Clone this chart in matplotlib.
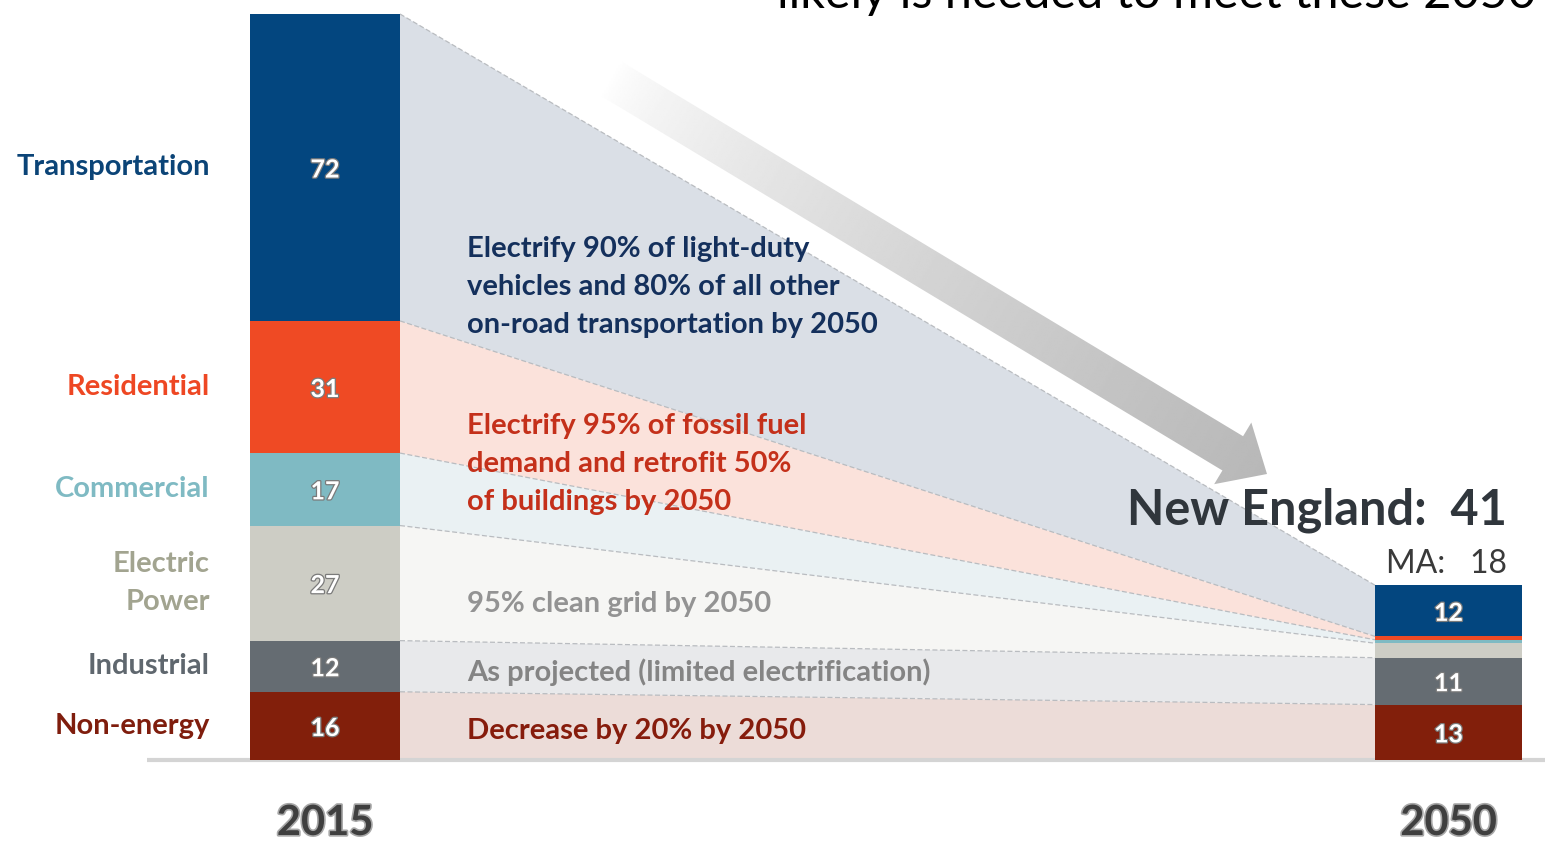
import matplotlib
matplotlib.use('Agg')
import matplotlib.pyplot as plt
import matplotlib.patheffects as pe
from matplotlib.patches import Polygon
import numpy as np

# emissions by sector, MMTCO2e, stacked bottom -> top
sectors = ['Non-energy', 'Industrial', 'Electric\nPower', 'Commercial', 'Residential', 'Transportation']
emis_2015 = [16, 12, 27, 17, 31, 72]
emis_2050 = [13, 11, 3.4, 0.8, 0.8, 12]
labels_2015 = ['16', '12', '27', '17', '31', '72']
labels_2050 = ['13', '11', '', '', '', '12']
years = ['2015', '2050']
total_2050 = 41
ma_2050 = 18

notes = [
    'Decrease by 20% by 2050',
    'As projected (limited electrification)',
    '95% clean grid by 2050',
    '',
    'Electrify 95% of fossil fuel\ndemand and retrofit 50%\nof buildings by 2050',
    'Electrify 90% of light-duty\nvehicles and 80% of all other\non-road transportation by 2050',
]

bar_colors = ['#821f0b', '#656c72', '#cdcdc5', '#7fbac3', '#ef4a24', '#03467f']
band_colors = ['#ecdcd8', '#e8e9eb', '#f6f6f4', '#eaf1f3', '#fbe2db', '#dadfe6']
label_colors = ['#7f1d0d', '#5f676e', '#a2a490', '#7fbac3', '#ee4723', '#0b4477']
note_colors = ['#861c0c', '#848484', '#939393', '#000000', '#c4301a', '#14305c']

W, H = 1545, 841
base_px = 760           # pixel row of the zero line
k = 746 / 175           # pixels per MMTCO2e
FONT = ['Lato', 'DejaVu Sans']

fig = plt.figure(figsize=(W / 100, H / 100), dpi=100)
ax = fig.add_axes([0, 0, 1, 1])
ax.set_xlim(0, W)
ax.set_ylim(-(H - base_px) / k, base_px / k)
ax.axis('off')

x15, w15 = 250, 150
x50, w50 = 1375, 147

b15 = np.concatenate([[0], np.cumsum(emis_2015)[:-1]])
b50 = np.concatenate([[0], np.cumsum(emis_2050)[:-1]])
t15 = b15 + np.array(emis_2015)
t50 = b50 + np.array(emis_2050)

# bands connecting the two years
for i in range(len(sectors)):
    poly = Polygon([(x15 + w15, b15[i]), (x15 + w15, t15[i]),
                    (x50, t50[i]), (x50, b50[i])],
                   closed=True, facecolor=band_colors[i], edgecolor='none', zorder=1)
    ax.add_patch(poly)
    ax.plot([x15 + w15, x50], [t15[i], t50[i]], color='#b9bcc0', lw=0.9,
            ls=(0, (4, 2)), zorder=2)

ax.bar(x15, emis_2015, bottom=b15, width=w15, align='edge', color=bar_colors, zorder=3)
ax.bar(x50, emis_2050, bottom=b50, width=w50, align='edge', color=bar_colors, zorder=3)

# base line
ax.plot([147, W], [0, 0], color='#d4d4d4', lw=3, zorder=2, solid_capstyle='butt')

val_fx = [pe.withStroke(linewidth=1.8, foreground='#7a7a7a')]
for i in range(len(sectors)):
    ax.text(x15 + w15 / 2, b15[i] + emis_2015[i] / 2 - 0.6, labels_2015[i], color='white',
            ha='center', va='center', fontsize=18, fontweight='bold', family=FONT,
            path_effects=val_fx, zorder=4)
    if labels_2050[i]:
        ax.text(x50 + w50 / 2, b50[i] + emis_2050[i] / 2 - 0.6, labels_2050[i], color='white',
                ha='center', va='center', fontsize=18, fontweight='bold', family=FONT,
                path_effects=val_fx, zorder=4)
    ax.text(210, b15[i] + emis_2015[i] / 2, sectors[i], color=label_colors[i],
            ha='right', va='center', fontsize=21, fontweight='bold', family=FONT,
            linespacing=1.55, zorder=4)

# overlay in pixel coordinates for the annotations and the arrow
deco = fig.add_axes([0, 0, 1, 1])
deco.set_xlim(0, W)
deco.set_ylim(H, 0)
deco.axis('off')
deco.patch.set_alpha(0)

note_y = [731, 672, 604, 0, 464, 287]
for i, txt in enumerate(notes):
    if not txt:
        continue
    deco.text(467, note_y[i], txt, color=note_colors[i], ha='left', va='center',
              fontsize=21, fontweight='bold', family=FONT, linespacing=1.55)

# gradient arrow
tail = np.array([610.0, 78.0])
tip = np.array([1267.0, 474.0])
u = (tip - tail) / np.linalg.norm(tip - tail)
n = np.array([-u[1], u[0]])
L = np.linalg.norm(tip - tail)
head_len, head_w, shaft_w = 40, 36, 20
base_c = tip - head_len * u
pts = [tail + shaft_w * n, base_c + shaft_w * n, base_c + head_w * n, tip,
       base_c - head_w * n, base_c - shaft_w * n, tail - shaft_w * n]
arrow = Polygon(pts, closed=True, facecolor='none', edgecolor='none')
deco.add_patch(arrow)
gx, gy = np.meshgrid(np.linspace(580, 1290, 400), np.linspace(40, 500, 300))
t = ((gx - tail[0]) * u[0] + (gy - tail[1]) * u[1]) / L
t = np.clip(t, 0, 1)
shade = 1 - 0.28 * t ** 0.7
img = deco.imshow(shade, cmap='gray', vmin=0, vmax=1, extent=[580, 1290, 40, 500],
                  origin='lower', interpolation='bilinear', aspect='auto', zorder=2)
img.set_clip_path(arrow)

deco.text(1507, 510, f'New England:  {total_2050}', color='#30363c', ha='right',
          va='center', fontsize=35, fontweight='bold', family=FONT, zorder=5)
deco.text(1507, 564, f'MA:   {ma_2050}', color='#3a3a3a', ha='right', va='center',
          fontsize=23, family=FONT, zorder=5)

yr_fx = [pe.withStroke(linewidth=2.4, foreground='#a8a8a8')]
for xc, yr in zip([x15 + w15 / 2, x50 + w50 / 2], years):
    deco.text(xc, 823, yr, color='#3f3f3f', ha='center', va='center', fontsize=30,
              fontweight='bold', family=FONT, path_effects=yr_fx)

deco.text(777, 8, 'likely is needed to meet these 2050', color='black', ha='left',
          va='baseline', fontsize=35, fontweight='normal', family=FONT)

fig.savefig('out.png', dpi=100)
